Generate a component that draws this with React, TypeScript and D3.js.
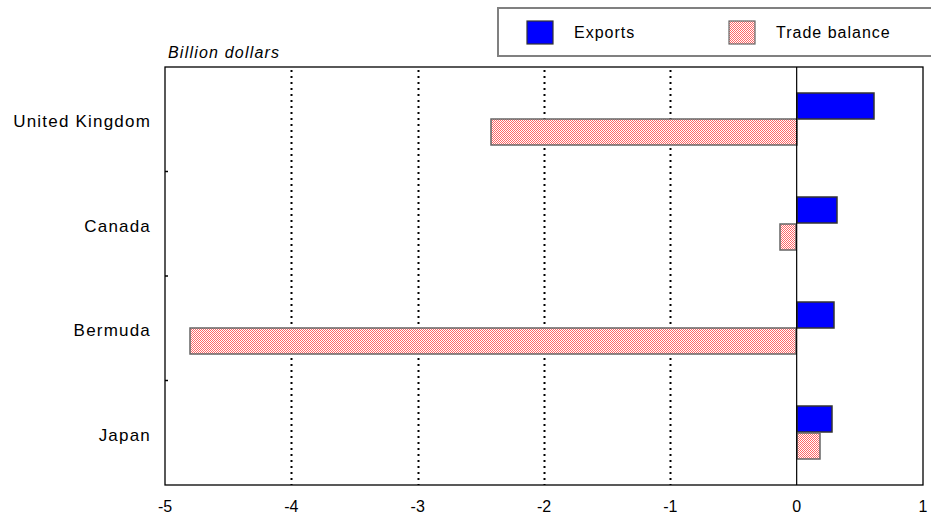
import React, { useRef, useEffect } from "react";
import * as d3 from "d3";

const categories = ["United Kingdom", "Canada", "Bermuda", "Japan"];
const exportsValues = [0.61, 0.32, 0.29, 0.28];
const balanceValues = [-2.42, -0.13, -4.8, 0.18];
const seriesNames = ["Exports", "Trade balance"];
const xTicks = [-5, -4, -3, -2, -1, 0, 1];
const unitLabel = "Billion dollars";

const App = () => {
  const ref = useRef<SVGSVGElement>(null);

  useEffect(() => {
    const svg = d3.select(ref.current);
    svg.selectAll("*").remove();

    const width = 931;
    const height = 516;
    const plot = { left: 165, right: 923, top: 67, bottom: 485 };
    const font = "'Liberation Sans', Arial, sans-serif";

    svg.attr("width", width).attr("height", height);

    // checker hatch for trade balance
    const defs = svg.append("defs");
    const pat = defs
      .append("pattern")
      .attr("id", "hatch")
      .attr("patternUnits", "userSpaceOnUse")
      .attr("x", 0)
      .attr("y", 0)
      .attr("width", 2)
      .attr("height", 2);
    pat
      .append("rect")
      .attr("width", 2)
      .attr("height", 2)
      .attr("fill", "#ffffff")
      .attr("shape-rendering", "crispEdges");
    pat
      .append("path")
      .attr("d", "M0,0h1v1h-1zM1,1h1v1h-1z")
      .attr("fill", "#ff6666")
      .attr("shape-rendering", "crispEdges");

    const x = d3.scaleLinear().domain([-5, 1]).range([plot.left, plot.right]);

    const y0 = d3
      .scaleBand()
      .domain(categories)
      .range([plot.top, plot.bottom])
      .padding(0);

    const y1 = d3
      .scaleBand()
      .domain(seriesNames)
      .range([0, y0.bandwidth()])
      .paddingInner(0)
      .paddingOuter(0.98);

    // gridlines
    svg
      .append("g")
      .selectAll("line")
      .data(xTicks.filter((t) => t > -5 && t < 1 && t !== 0))
      .join("line")
      .attr("x1", (d) => Math.round(x(d)) + 0.5)
      .attr("x2", (d) => Math.round(x(d)) + 0.5)
      .attr("y1", plot.top + 3)
      .attr("y2", plot.bottom)
      .attr("stroke", "#000")
      .attr("stroke-width", 2)
      .attr("stroke-dasharray", "2,4");

    // bars
    const bars = categories.flatMap((c, i) => [
      { cat: c, s: seriesNames[0], v: exportsValues[i] },
      { cat: c, s: seriesNames[1], v: balanceValues[i] },
    ]);

    svg
      .append("g")
      .selectAll("rect")
      .data(bars)
      .join("rect")
      .attr("x", (d) => Math.round(x(Math.min(0, d.v))))
      .attr("y", (d) => Math.round(y0(d.cat)! + y1(d.s)!))
      .attr("width", (d) => Math.round(Math.abs(x(d.v) - x(0))))
      .attr("height", Math.round(y1.bandwidth()))
      .attr("fill", (d) => (d.s === "Exports" ? "#0000ff" : "url(#hatch)"))
      .attr("stroke", (d) => (d.s === "Exports" ? "#333" : "#666"))
      .attr("stroke-width", 1.5);

    // zero line
    svg
      .append("line")
      .attr("x1", x(0))
      .attr("x2", x(0))
      .attr("y1", plot.top)
      .attr("y2", plot.bottom)
      .attr("stroke", "#000")
      .attr("stroke-width", 1.2);

    // frame
    svg
      .append("rect")
      .attr("x", plot.left)
      .attr("y", plot.top)
      .attr("width", plot.right - plot.left)
      .attr("height", plot.bottom - plot.top)
      .attr("fill", "none")
      .attr("stroke", "#000")
      .attr("stroke-width", 1.3);

    // left axis minor ticks at band boundaries
    svg
      .append("g")
      .selectAll("line")
      .data(categories.slice(1))
      .join("line")
      .attr("x1", plot.left)
      .attr("x2", plot.left + 3)
      .attr("y1", (d) => y0(d)!)
      .attr("y2", (d) => y0(d)!)
      .attr("stroke", "#000")
      .attr("stroke-width", 1.5);

    // category labels
    svg
      .append("g")
      .selectAll("text")
      .data(categories)
      .join("text")
      .attr("x", 151)
      .attr("y", (d) => y0(d)! + y0.bandwidth() / 2 + 8)
      .attr("text-anchor", "end")
      .attr("font-family", font)
      .attr("font-size", 17)
      .attr("letter-spacing", 1.2)
      .attr("fill", "#000")
      .text((d) => d);

    // x tick labels
    svg
      .append("g")
      .selectAll("text")
      .data(xTicks)
      .join("text")
      .attr("x", (d) => x(d))
      .attr("y", 512)
      .attr("text-anchor", "middle")
      .attr("font-family", font)
      .attr("font-size", 16)
      .attr("fill", "#000")
      .text((d) => d);

    // unit label
    svg
      .append("text")
      .attr("x", 168)
      .attr("y", 58)
      .attr("font-family", font)
      .attr("font-size", 16)
      .attr("font-style", "italic")
      .attr("letter-spacing", 1.2)
      .attr("fill", "#000")
      .text(unitLabel);

    // legend
    const legend = svg.append("g");
    legend
      .append("rect")
      .attr("x", 498)
      .attr("y", 8)
      .attr("width", 460)
      .attr("height", 48)
      .attr("fill", "#fff")
      .attr("stroke", "#808080")
      .attr("stroke-width", 2);

    const legendX = [527, 729];
    seriesNames.forEach((s, i) => {
      legend
        .append("rect")
        .attr("x", legendX[i])
        .attr("y", 21)
        .attr("width", 26)
        .attr("height", 23)
        .attr("fill", i === 0 ? "#0000ff" : "url(#hatch)")
        .attr("stroke", i === 0 ? "#333" : "#666")
        .attr("stroke-width", 1.2);
      legend
        .append("text")
        .attr("x", legendX[i] + 47)
        .attr("y", 37.5)
        .attr("font-family", font)
        .attr("font-size", 16)
        .attr("letter-spacing", 1)
        .attr("fill", "#000")
        .text(s);
    });
  }, []);

  return (
    <svg
      ref={ref}
      style={{ position: "absolute", left: 0, top: 0, background: "#fff" }}
    ></svg>
  );
};

export default App;
